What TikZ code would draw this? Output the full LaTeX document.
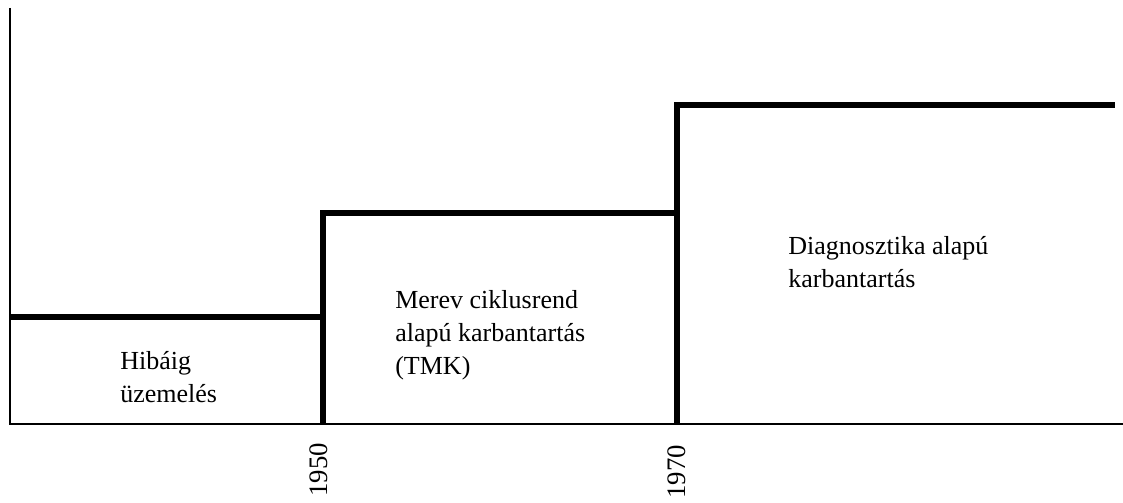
\documentclass[tikz,border=0pt]{standalone}
\usepackage{fontspec}
\setmainfont{Liberation Serif}
\tikzset{
  axis/.style={line width=1.4pt},
  stepline/.style={line width=3.6pt,line join=miter},
  phase/.style={anchor=base west,align=left,inner sep=0pt,font=\fontsize{18.5}{23.5}\selectfont},
  year/.style={rotate=90,anchor=east,inner sep=0pt,font=\fontsize{19}{21}\selectfont}
}
\begin{document}
\begin{tikzpicture}[x=0.025cm,y=-0.025cm]
      \useasboundingbox (0,0) rectangle (1123,503);
      % axes
      \coordinate (origin) at (10,424);
      \coordinate (ytop) at (10,8);
      \coordinate (xend) at (1123,424);
      \draw [axis] (ytop) -- (origin) -- (xend);
      % steps
      \coordinate (s1a) at (10,317);
      \coordinate (s1b) at (323,317);
      \coordinate (b1) at (323,424);
      \coordinate (s2a) at (323,213);
      \coordinate (s2b) at (677,213);
      \coordinate (b2) at (677,424);
      \coordinate (s3a) at (677,105);
      \coordinate (s3b) at (1115,105);
      \draw [stepline] (s1a) -- (s1b);
      \draw [stepline] (b1) -- (s2a) -- (s2b);
      \draw [stepline] (b2) -- (s3a) -- (s3b);
      % labels (base = last line)
      \node [phase] (hiba) at (120,403) {Hibáig\\üzemelés};
      \node [phase] (tmk) at (395,375) {Merev ciklusrend\\alapú karbantartás\\(TMK)};
      \node [phase] (diag) at (788,288) {Diagnosztika alapú\\karbantartás};
      \node [year] (y1950) at (319,443) {1950};
      \node [year] (y1970) at (677,445) {1970};
\end{tikzpicture}
\end{document}
